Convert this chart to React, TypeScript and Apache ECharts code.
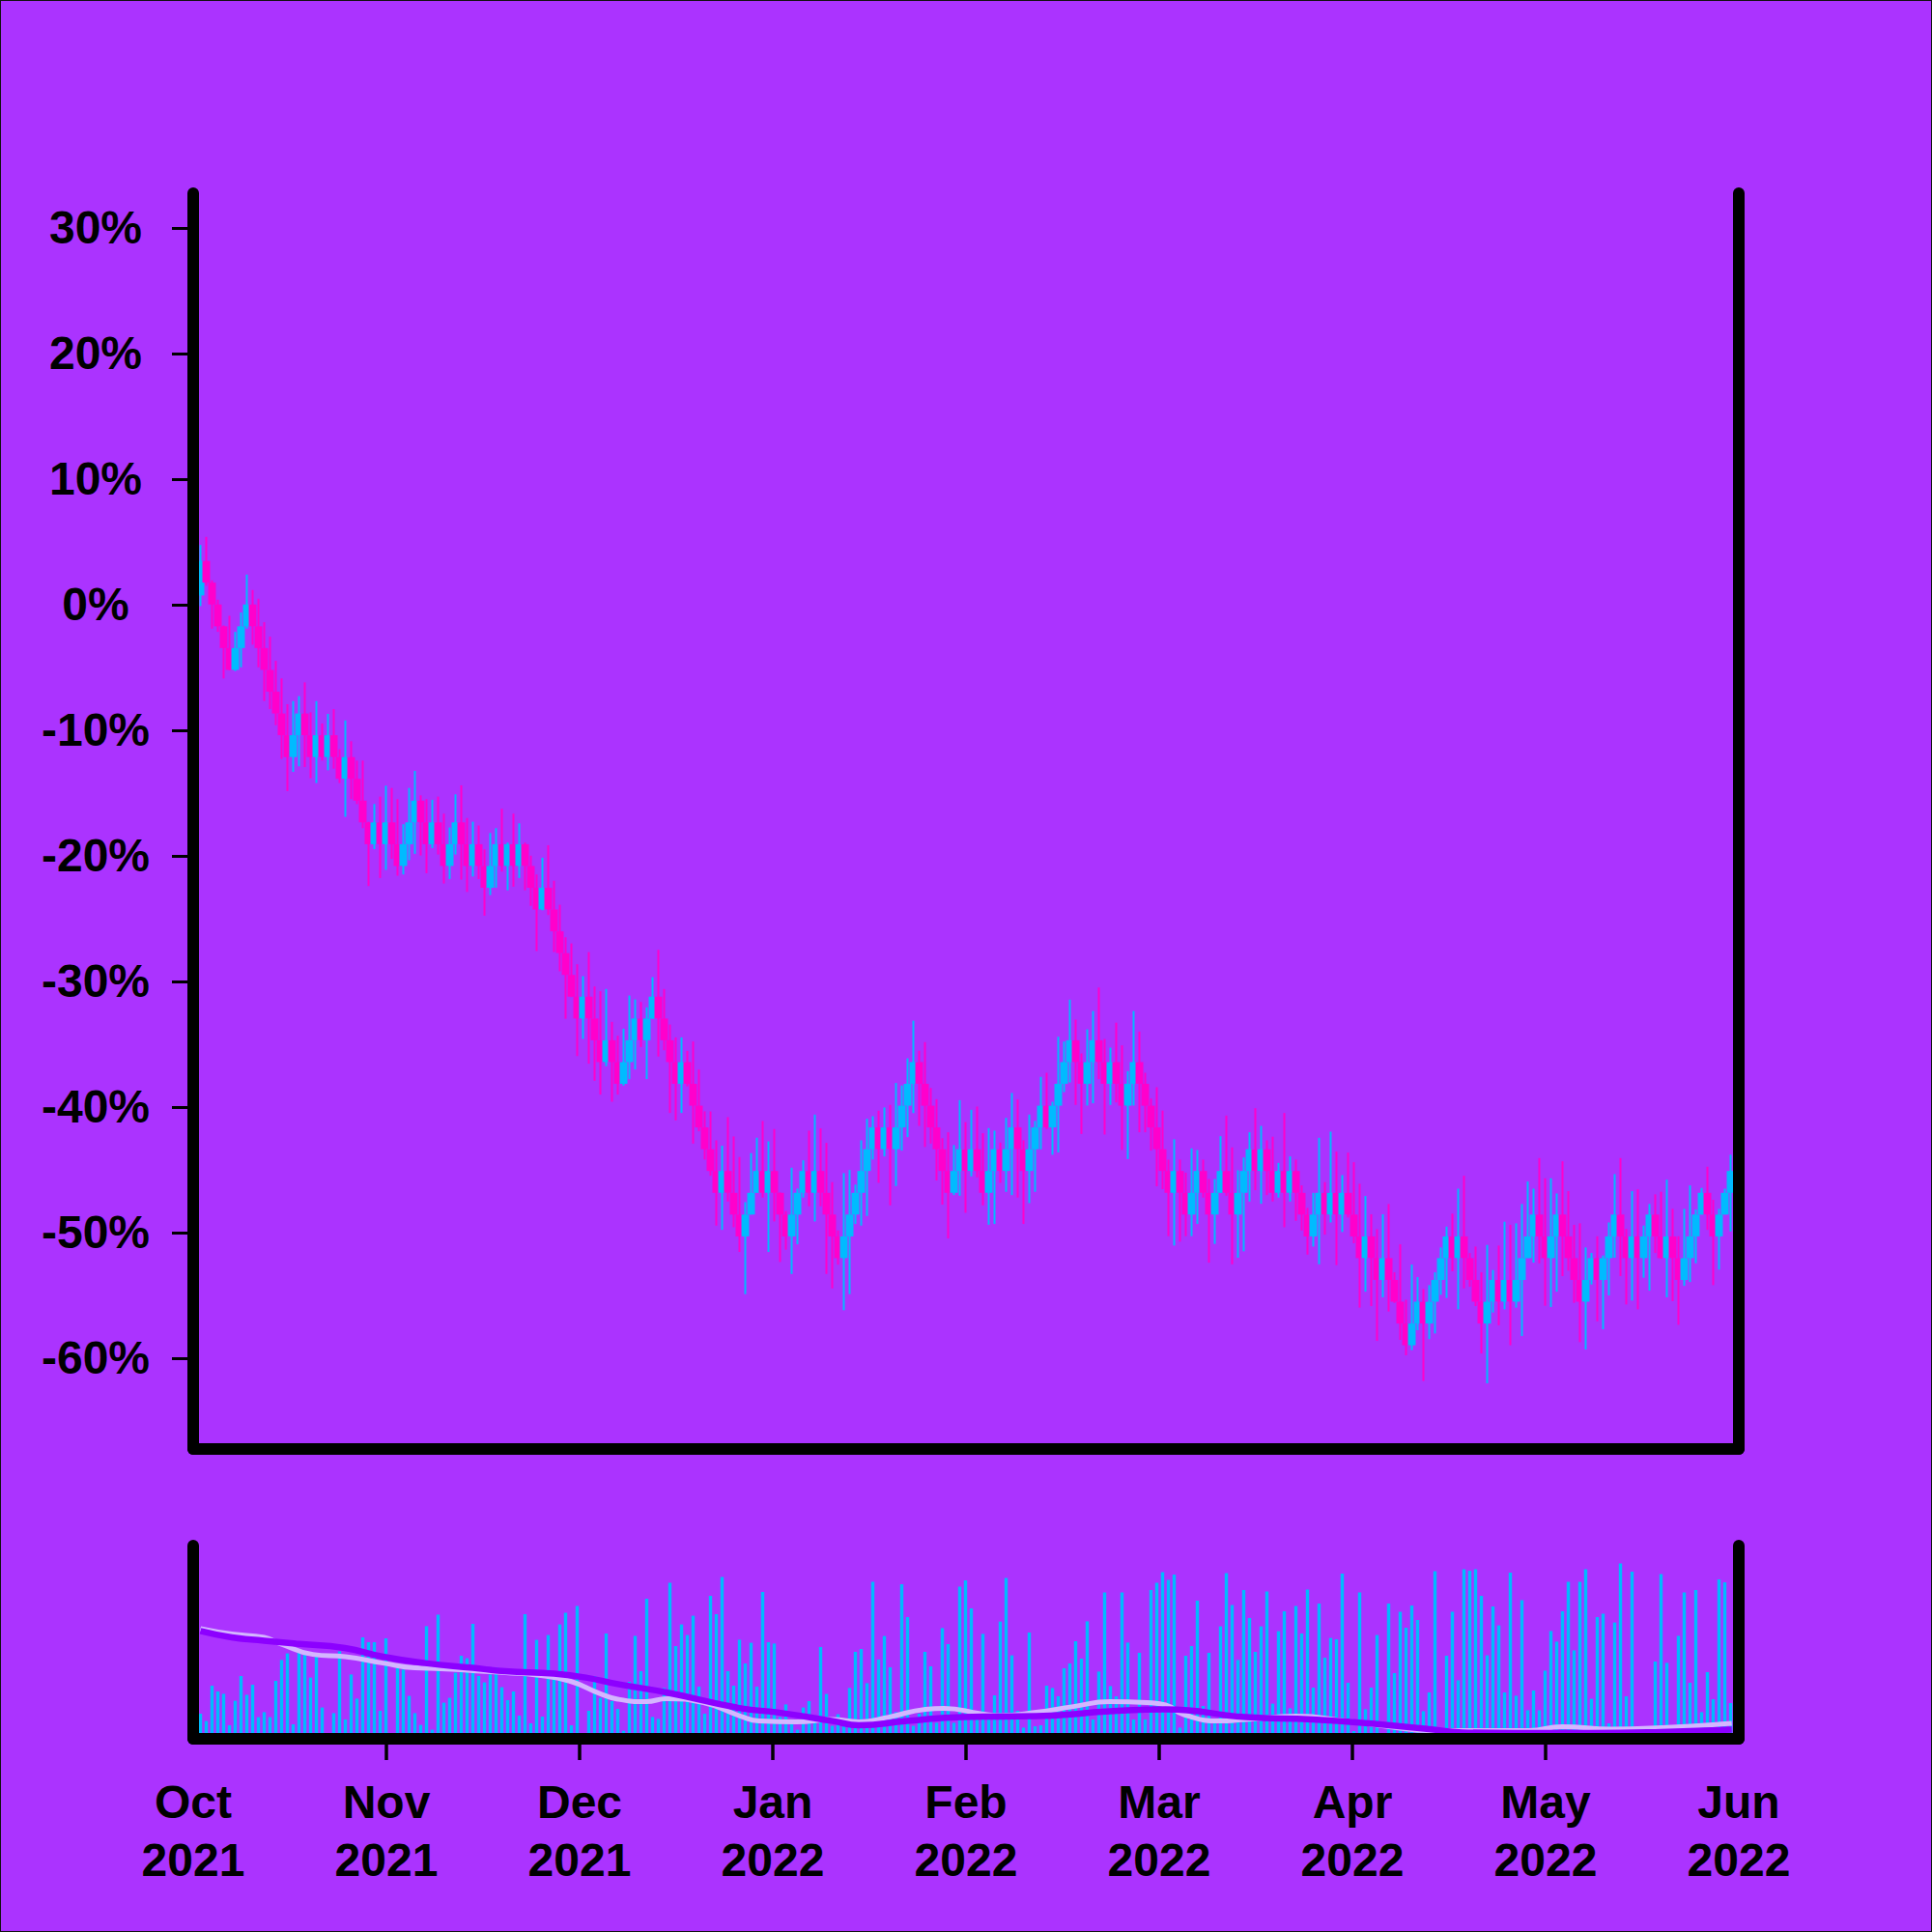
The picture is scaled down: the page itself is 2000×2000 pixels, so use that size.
import React, { useEffect, useRef } from "react";
import * as echarts from "echarts";

// ---- data ----
const monthLabels = ["Oct\n2021", "Nov\n2021", "Dec\n2021", "Jan\n2022", "Feb\n2022", "Mar\n2022", "Apr\n2022", "May\n2022", "Jun\n2022"];
const yTickValues = [-60, -50, -40, -30, -20, -10, 0, 10, 20, 30];

const firstOpen = 0.72;
const closes = [
  3.47, 1.74, 0, -1.74, -3.47, -5.21, -3.47, -1.74, 0, -1.74,
  -3.47, -5.21, -6.94, -8.68, -10.41, -12.15, -10.41, -8.68, -10.41, -12.15,
  -10.41, -12.15, -10.41, -12.15, -13.88, -12.15, -13.88, -15.62, -17.35, -19.09,
  -17.35, -19.09, -17.35, -19.09, -20.82, -19.09, -17.35, -15.62, -17.35, -19.09,
  -17.35, -19.09, -20.82, -19.09, -17.35, -19.09, -20.82, -19.09, -20.82, -22.56,
  -20.82, -19.09, -20.82, -19.09, -20.82, -19.09, -20.82, -22.56, -24.29, -22.56,
  -24.29, -26.03, -27.76, -29.50, -31.23, -32.97, -31.23, -32.97, -34.70, -36.44,
  -34.70, -36.44, -38.17, -36.44, -34.70, -32.97, -34.70, -32.97, -31.23, -32.97,
  -34.70, -36.44, -38.17, -36.44, -38.17, -39.91, -41.64, -43.38, -45.11, -46.85,
  -45.11, -46.85, -48.58, -50.32, -48.58, -46.85, -45.11, -46.85, -45.11, -46.85,
  -48.58, -50.32, -48.58, -46.85, -45.11, -46.85, -45.11, -46.85, -48.58, -50.32,
  -52.05, -50.32, -48.58, -46.85, -45.11, -43.38, -41.64, -43.38, -41.64, -43.38,
  -41.64, -39.91, -38.17, -36.44, -38.17, -39.91, -41.64, -43.38, -45.11, -46.85,
  -45.11, -43.38, -45.11, -43.38, -45.11, -46.85, -45.11, -43.38, -45.11, -43.38,
  -41.64, -43.38, -45.11, -43.38, -41.64, -39.91, -41.64, -39.91, -38.17, -36.44,
  -34.70, -36.44, -38.17, -36.44, -34.70, -36.44, -38.17, -36.44, -38.17, -39.91,
  -38.17, -36.44, -38.17, -39.91, -41.64, -43.38, -45.11, -46.85, -45.11, -46.85,
  -48.58, -46.85, -45.11, -46.85, -48.58, -46.85, -45.11, -46.85, -48.58, -46.85,
  -45.11, -43.38, -45.11, -43.38, -45.11, -46.85, -45.11, -46.85, -45.11, -46.85,
  -48.58, -50.32, -48.58, -46.85, -48.58, -46.85, -48.58, -46.85, -48.58, -50.32,
  -52.05, -50.32, -52.05, -53.79, -52.05, -53.79, -55.52, -57.26, -58.99, -57.26,
  -55.52, -57.26, -55.52, -53.79, -52.05, -50.32, -52.05, -50.32, -52.05, -53.79,
  -55.52, -57.26, -55.52, -53.79, -55.52, -53.79, -55.52, -53.79, -52.05, -50.32,
  -48.58, -50.32, -52.05, -50.32, -48.58, -50.32, -52.05, -53.79, -55.52, -53.79,
  -52.05, -53.79, -52.05, -50.32, -48.58, -50.32, -52.05, -50.32, -52.05, -50.32,
  -48.58, -50.32, -52.05, -50.32, -52.05, -53.79, -52.05, -50.32, -48.58, -46.85,
  -48.58, -50.32, -48.58, -46.85, -45.11,
];
const highs = [
  4.74, 5.38, 1.92, 0.38, -1.67, -0.9, -2.18, -0.64, 2.38, 1.15,
  0.46, -1.41, -2.56, -4.49, -5.89, -7.94, -7.69, -7.3, -6.2, -8.59,
  -7.69, -9.48, -8.71, -8.33, -11.53, -9.23, -10.89, -12.43, -12.43, -17.3,
  -15.89, -15.3, -14.43, -14.61, -15.5, -17.5, -14.61, -13.25, -15.2, -15.5,
  -15.56, -15.3, -16.66, -17.76, -15.12, -14.4, -17.0, -17.3, -17.6, -19.5,
  -18.2, -17.81, -16.27, -18.96, -16.66, -17.43, -18.96, -20.0, -21.5, -20.17,
  -19.17, -22.0, -23.91, -26.5, -26.99, -28.65, -29.6, -27.68, -30.42, -30.8,
  -30.62, -33.24, -34.34, -33.78, -31.14, -31.45, -31.65, -32.08, -29.68, -27.5,
  -30.62, -33.45, -34.47, -34.47, -35.55, -34.8, -37.03, -40.36, -40.37, -42.67,
  -43.1, -40.82, -42.36, -44.0, -47.59, -43.69, -42.46, -41.13, -42.75, -41.77,
  -46.82, -48.3, -44.85, -46.51, -44.26, -41.9, -40.62, -41.72, -42.87, -46.0,
  -49.85, -45.28, -45.03, -46.2, -42.67, -40.95, -40.75, -40.31, -40.05, -39.85,
  -38.1, -38.3, -36.14, -33.14, -35.54, -34.85, -38.5, -39.39, -42.5, -42.03,
  -43.05, -39.47, -41.22, -40.24, -39.98, -42.1, -41.7, -41.9, -42.85, -40.88,
  -38.9, -39.42, -42.67, -40.62, -41.13, -37.62, -37.29, -39.6, -34.42, -34.8,
  -31.47, -33.06, -35.75, -33.83, -32.37, -30.5, -34.6, -35.29, -33.3, -35.11,
  -37.16, -32.37, -34.01, -37.29, -39.34, -38.44, -40.3, -44.21, -42.59, -44.21,
  -45.24, -43.31, -43.44, -44.21, -45.75, -45.75, -42.34, -40.7, -43.23, -45.05,
  -44.03, -42.03, -40.11, -41.52, -42.67, -42.38, -44.47, -40.49, -43.95, -44.21,
  -46.26, -48.05, -46.85, -42.47, -46.0, -41.98, -43.57, -45.44, -43.65, -44.41,
  -46.13, -47.1, -48.56, -49.74, -48.56, -47.74, -53.18, -50.95, -55.36, -52.56,
  -53.56, -54.51, -54.2, -53.18, -51.2, -49.54, -48.51, -46.52, -45.49, -51.64,
  -51.13, -53.18, -51.0, -53.0, -51.05, -49.15, -49.4, -49.28, -47.74, -45.95,
  -46.52, -44.08, -45.69, -45.69, -46.9, -44.34, -46.72, -49.4, -49.28, -51.2,
  -51.64, -50.31, -51.84, -49.21, -45.36, -44.08, -49.72, -46.72, -46.57, -49.46,
  -47.74, -46.97, -46.77, -45.8, -48.13, -50.31, -48.13, -46.26, -48.18, -46.46,
  -44.77, -47.41, -48.13, -46.52, -43.82,
];
const lows = [
  -0.13, 1.5, -1.92, -2.18, -5.89, -5.25, -5.3, -5.0, -1.92, -3.2,
  -5.0, -7.69, -8.33, -9.61, -12.3, -14.86, -13.33, -12.89, -12.94, -13.84,
  -14.22, -12.43, -13.2, -13.07, -14.22, -16.91, -15.5, -15.9, -17.81, -22.42,
  -19.48, -21.78, -21.14, -20.25, -21.6, -21.5, -20.37, -19.86, -19.99, -21.4,
  -19.4, -19.91, -22.22, -21.86, -19.91, -21.91, -22.89, -21.66, -21.86, -24.78,
  -23.14, -22.55, -21.27, -22.76, -22.47, -21.78, -22.76, -24.0, -27.6, -24.35,
  -24.73, -27.68, -29.21, -32.99, -31.26, -35.96, -34.6, -36.57, -37.93, -39.03,
  -36.77, -39.6, -39.03, -38.31, -37.8, -37.03, -35.24, -37.8, -33.0, -36.0,
  -35.5, -40.49, -41.08, -40.49, -38.37, -42.93, -41.95, -44.2, -45.49, -49.46,
  -49.8, -47.54, -49.59, -51.56, -54.92, -48.31, -46.77, -47.23, -51.56, -49.13,
  -52.36, -51.38, -53.31, -50.95, -47.23, -47.92, -49.13, -47.92, -53.31, -54.46,
  -52.57, -56.2, -54.92, -49.33, -49.46, -48.69, -44.2, -46.05, -43.95, -47.85,
  -46.31, -43.49, -42.41, -40.5, -41.52, -43.2, -42.93, -45.87, -47.79, -50.48,
  -47.03, -47.08, -48.44, -45.54, -45.62, -47.85, -49.39, -49.33, -46.05, -46.77,
  -47.03, -47.23, -49.33, -47.67, -46.77, -43.39, -41.77, -43.82, -43.64, -38.83,
  -38.06, -39.85, -42.16, -39.9, -39.72, -37.8, -42.21, -39.85, -39.65, -43.44,
  -44.16, -39.9, -42.03, -42.03, -43.49, -46.33, -46.56, -50.3, -51.05, -50.74,
  -50.3, -50.3, -49.33, -47.23, -52.41, -50.92, -46.85, -47.08, -52.54, -52.02,
  -51.51, -47.54, -46.64, -47.72, -47.03, -47.54, -47.23, -49.59, -47.54, -49.08,
  -49.85, -51.77, -51.13, -52.54, -50.18, -49.21, -52.61, -49.97, -48.82, -50.87,
  -55.99, -54.72, -55.87, -58.64, -55.17, -56.3, -55.61, -58.56, -59.79, -59.38,
  -57.79, -61.84, -58.5, -58.05, -54.97, -55.22, -53.1, -56.13, -54.46, -54.33,
  -55.87, -59.64, -62.02, -56.38, -57.4, -56.13, -58.99, -55.99, -58.25, -52.02,
  -52.41, -52.46, -55.84, -55.94, -54.72, -53.48, -53.05, -55.61, -58.74, -59.33,
  -54.15, -57.08, -57.72, -55.02, -52.02, -53.48, -55.74, -55.43, -56.13, -53.61,
  -54.64, -51.64, -52.1, -55.17, -55.48, -57.36, -54.26, -53.95, -52.46, -48.56,
  -49.8, -54.2, -52.97, -48.56, -49.92,
];
const volumes = [
  13, 9.2, 27.5, 24.5, 23.3, 7, 19.7, 32.5, 22.7, 28,
  11.2, 13.8, 11.2, 30, 40.8, 44.2, 7.5, 45.3, 45, 31.7,
  43, 16.2, 0, 13.3, 45.3, 10, 33.3, 20.8, 52.5, 50,
  50, 14.5, 52, 0, 36.7, 35.8, 22.2, 13.3, 7.2, 58.3,
  4.7, 64.2, 18.7, 21.2, 34.2, 43, 41.7, 59.5, 32.5, 29.2,
  33.3, 37, 26.7, 20, 24.5, 12, 64.5, 8, 51.2, 11.5,
  53.7, 32.3, 59.2, 65.3, 7, 68.8, 0, 14.5, 32.5, 21.2,
  54.5, 19.5, 15.5, 4.2, 29.5, 53.3, 35, 72.5, 11.3, 10.3,
  26.3, 80.8, 48, 59.2, 53.7, 63.7, 27, 13, 74, 64.5,
  83.7, 35, 27.5, 51.3, 39, 49.7, 27, 76, 50, 49.3,
  11.3, 17.8, 8.7, 4.7, 16.2, 19.5, 8.7, 47.5, 23.2, 6.7,
  12.7, 8.7, 26.3, 45, 46.5, 28.8, 81.3, 41, 53.2, 37,
  13.8, 80, 63, 6.7, 13, 45, 37.5, 8.3, 57.3, 49,
  8.3, 78.7, 82, 67.5, 10, 54.3, 10, 22.5, 60.7, 83.3,
  43.2, 14.5, 5.8, 55, 6.5, 7, 27.5, 26.3, 22, 36.5,
  39, 50.5, 41.5, 60.8, 10, 34.8, 75.7, 27.3, 22, 75.7,
  49.8, 10, 44.5, 10, 77, 80.8, 86.3, 82.3, 85, 5.8,
  43, 48, 71.5, 17, 44.5, 10, 58.2, 85.8, 69.2, 40.8,
  77, 62.5, 45, 58.2, 76.2, 18.2, 55.7, 66, 15.8, 68.7,
  54.5, 77.3, 26.5, 70, 42, 52.2, 51.5, 85.5, 29, 4,
  75.7, 15.3, 26.5, 53.7, 3, 70, 34, 65.8, 57.5, 69,
  61.5, 14.3, 24, 86.8, 5, 43, 65.7, 30.3, 87.8, 87,
  87.7, 74, 43.2, 68.5, 58.7, 24, 86, 22.3, 71.8, 14.8,
  25, 14.8, 35.3, 55.8, 50.3, 66, 81.2, 45.8, 81.3, 87.7,
  20.7, 63, 64.7, 8, 60.2, 90.8, 22, 86.5, 3, 3,
  3, 40, 85.3, 39.3, 3, 53.3, 75.7, 29, 77, 13.8,
  34.5, 20.5, 82.5, 81, 18.5,
];
// moving-average curves of the volume panel, read as [index, value] points
const maLight = [
  [0, 57], [5.4, 54.2], [11, 52.5], [13.8, 49.2], [19.4, 43.7], [25, 42.5], [31.5, 39.2], [37, 36.7],
  [41.5, 36.3], [47, 35.3], [52.6, 34.2], [58, 33], [63.6, 30], [69, 23.3], [72, 20.5], [76.9, 19.2],
  [80.4, 20.8], [86.8, 18.7], [93.2, 11.7], [96.4, 9.2], [102.8, 8.7], [109.1, 10], [113.6, 8.8],
  [118.7, 11.2], [125.1, 15.3], [128.3, 15.8], [134.6, 13], [137.8, 12], [144.2, 13.7], [150.6, 16.7],
  [156.9, 19.2], [163.3, 18.7], [166.5, 17.5], [169.7, 12.5], [176, 9.2], [180.4, 10], [189, 11.7],
  [197.6, 9.2], [206.3, 5.8], [212, 4.2], [220.6, 4.2], [229.2, 4.2], [234.9, 6.3], [243.5, 5],
  [252.2, 5.8], [264.2, 8],
];
const maDark = [
  [0, 55.8], [5.4, 52.5], [11, 50.8], [16.5, 49.2], [24.9, 47], [31.5, 42.5], [38.75, 39.2], [47, 36.7],
  [52.6, 35], [61, 33.7], [66.5, 31.7], [72, 28.3], [80.4, 24], [93.2, 15.8], [99.5, 13.7], [109.1, 9.2],
  [113.6, 7], [121.9, 9.2], [131.4, 11.3], [144.2, 11.7], [156.9, 14.2], [166.5, 15.3], [180.4, 11.2],
  [191.9, 10], [203.4, 7.5], [212, 5], [217.7, 3.3], [226.3, 3], [240, 3], [252, 3.5], [264.2, 4.7],
];

// ---- style ----
const BG = "#ab33ff";
const UP = "#00bbff";
const DOWN = "#ff00cc";
const LAV = "#d4b6ff";
const PURPLE = "#8c00ff";
const FONT = '"Liberation Sans", Arial, Helvetica, sans-serif';
const BODY_W = 8; // px
const WICK_W = 2; // px

const X_MIN = -1.25;
const X_MAX = X_MIN + 1600 / 6;
const X_STEP = (X_MAX - X_MIN) / (monthLabels.length - 1);
const xLabelPositions = monthLabels.map((_, k) => X_MIN + k * X_STEP);

const axisLineStyle = { color: "#000", width: 12, cap: "round" as const };

export default function App() {
  const ref = useRef<HTMLDivElement>(null);
  useEffect(() => {
    if (!ref.current) return;
    const chart = echarts.init(ref.current, undefined, { renderer: "svg" });
    const candleData = closes.map((c, i) => {
      const o = i === 0 ? firstOpen : closes[i - 1];
      const h = Math.max(highs[i], o, c);
      const l = Math.min(lows[i], o, c);
      return [i, o, c, l, h];
    });
    const volData = volumes.map((v, i) => [i, v]);
    const plainAxis = {
      z: 10,
      axisLine: { show: true, onZero: false, lineStyle: axisLineStyle },
      axisTick: { show: false },
      axisLabel: { show: false },
      splitLine: { show: false },
    };

    const renderCandle = (params: any, api: any) => {
      const x = api.value(0);
      const o = api.value(1);
      const c = api.value(2);
      const l = api.value(3);
      const h = api.value(4);
      const pO = api.coord([x, o]);
      const pC = api.coord([x, c]);
      const pL = api.coord([x, l]);
      const pH = api.coord([x, h]);
      const color = c >= o ? UP : DOWN;
      const top = Math.min(pO[1], pC[1]);
      const bottom = Math.max(pO[1], pC[1]);
      const cs = params.coordSys;
      return {
        type: "group",
        children: [
          {
            type: "rect",
            shape: { x: pH[0] - WICK_W / 2, y: pH[1], width: WICK_W, height: pL[1] - pH[1] },
            style: { fill: color },
          },
          {
            type: "rect",
            shape: { x: pO[0] - BODY_W / 2, y: top, width: BODY_W, height: Math.max(bottom - top, 1) },
            style: { fill: color },
          },
        ],
        clipPath: {
          type: "rect",
          shape: { x: cs.x, y: cs.y, width: cs.width, height: cs.height },
        },
      };
    };

    chart.setOption({
      animation: false,
      backgroundColor: BG,
      graphic: [
        {
          type: "rect",
          shape: { x: 0, y: 0, width: 2000, height: 2000 },
          style: { fill: "none", stroke: "#111", lineWidth: 2 },
          silent: true,
        },
      ],
      grid: [
        { left: 200, right: 200, top: 200, height: 1300 },
        { left: 200, right: 200, top: 1600, height: 200 },
      ],
      xAxis: [
        { type: "value", gridIndex: 0, min: X_MIN, max: X_MAX, ...plainAxis },
        {
          type: "value",
          gridIndex: 1,
          min: X_MIN,
          max: X_MAX,
          z: 10,
          axisLine: { show: true, onZero: false, lineStyle: axisLineStyle },
          axisTick: {
            show: true,
            customValues: xLabelPositions.slice(1, -1),
            length: 22,
            lineStyle: { color: "#000", width: 3.5 },
          },
          axisLabel: {
            show: true,
            customValues: xLabelPositions,
            showMinLabel: true,
            showMaxLabel: true,
            formatter: (v: number) => monthLabels[Math.round((v - X_MIN) / X_STEP)] ?? "",
            fontSize: 48,
            fontWeight: "bold",
            fontFamily: FONT,
            color: "#000",
            lineHeight: 60,
            margin: 35,
          },
          splitLine: { show: false },
        },
      ],
      yAxis: [
        {
          type: "value",
          gridIndex: 0,
          position: "left",
          min: -67.25,
          max: 32.75,
          z: 10,
          axisLine: { show: true, onZero: false, lineStyle: axisLineStyle },
          axisTick: {
            show: true,
            customValues: yTickValues,
            length: 22,
            lineStyle: { color: "#000", width: 3 },
          },
          axisLabel: {
            show: true,
            customValues: yTickValues,
            formatter: (v: number) => `${v}%`,
            fontSize: 48,
            fontWeight: "bold",
            fontFamily: FONT,
            color: "#000",
            align: "center",
            margin: 101,
          },
          splitLine: { show: false },
        },
        { type: "value", gridIndex: 0, position: "right", min: -67.25, max: 32.75, ...plainAxis },
        { type: "value", gridIndex: 1, position: "left", min: 0, max: 100, ...plainAxis },
        { type: "value", gridIndex: 1, position: "right", min: 0, max: 100, ...plainAxis },
      ],
      series: [
        {
          type: "custom",
          name: "price",
          xAxisIndex: 0,
          yAxisIndex: 0,
          data: candleData,
          encode: { x: 0, y: [1, 2, 3, 4] },
          renderItem: renderCandle,
        },
        {
          type: "bar",
          xAxisIndex: 1,
          yAxisIndex: 2,
          data: volData,
          barWidth: 3.4,
          itemStyle: { color: UP },
          z: 2,
        },
        {
          type: "line",
          xAxisIndex: 1,
          yAxisIndex: 2,
          data: maLight,
          smooth: 0.5,
          symbol: "none",
          lineStyle: { color: LAV, width: 5 },
          z: 3,
        },
        {
          type: "line",
          xAxisIndex: 1,
          yAxisIndex: 2,
          data: maDark,
          smooth: 0.5,
          symbol: "none",
          lineStyle: { color: PURPLE, width: 6.5 },
          z: 4,
        },
      ],
    });
    return () => chart.dispose();
  }, []);
  return (
    <div
      ref={ref}
      style={{ position: "absolute", left: 0, top: 0, width: 2000, height: 2000 }}
    />
  );
}
